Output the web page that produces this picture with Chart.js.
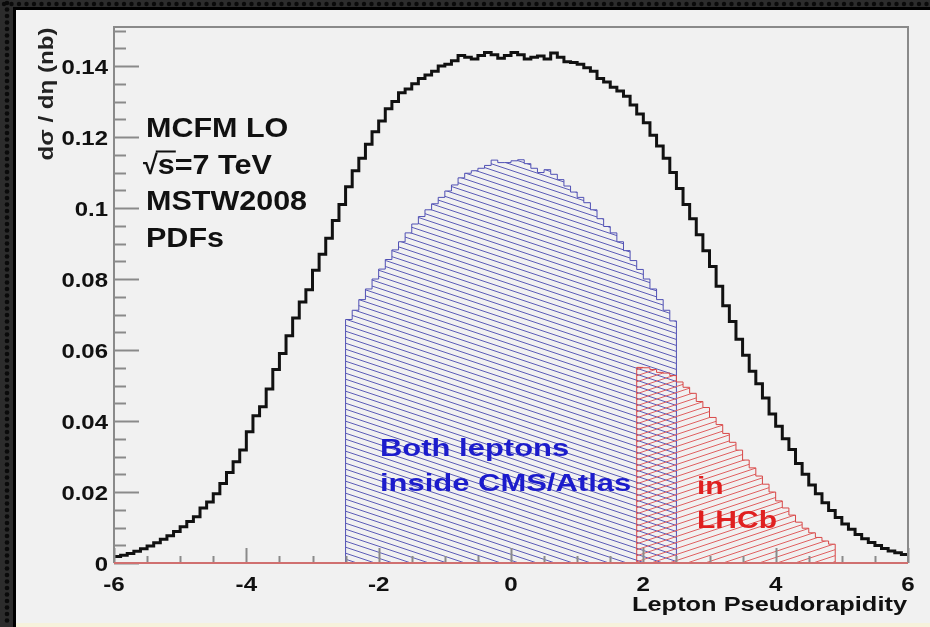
<!DOCTYPE html>
<html lang="en">
<head>
    <meta charset="UTF-8">
    <title>Lepton Pseudorapidity</title>
    <style>
        html, body { margin: 0; padding: 0; background: #2a2a2a; }
        #wrap { width: 930px; height: 627px; }
    </style>
</head>
<body>
    <div id="wrap"><canvas id="chart" width="930" height="627"></canvas></div>
    <script src="https://cdn.jsdelivr.net/npm/chart.js@4.4.0/dist/chart.umd.min.js"></script>
    <script>
        // histogram ranges, bin width 0.1
        const allRange = [-6, 6]
        const cmsRange = [-2.5, 2.5]
        const lhcbRange = [1.9, 4.9]
        const binWidth = 0.1

        // all events, -6 .. 6
        const allLeptons = [
            0.0018, 0.0022, 0.0027, 0.0033, 0.0040, 0.0048, 0.0057, 0.0067, 0.0077, 0.0089,
            0.0102, 0.0117, 0.0130, 0.0155, 0.0172, 0.0195, 0.0224, 0.0255, 0.0285, 0.0318,
            0.0370, 0.0415, 0.0440, 0.0490, 0.0545, 0.0590, 0.0640, 0.0690, 0.0735, 0.0770,
            0.0825, 0.0870, 0.0915, 0.0965, 0.1010, 0.1060, 0.1105, 0.1140, 0.1180, 0.1215,
            0.1245, 0.1280, 0.1300, 0.1325, 0.1335, 0.1350, 0.1365, 0.1375, 0.1385, 0.1400,
            0.1405, 0.1415, 0.1430, 0.1425, 0.1420, 0.1430, 0.1438, 0.1432, 0.1422, 0.1430,
            0.1438, 0.1432, 0.1420, 0.1425, 0.1428, 0.1420, 0.1437, 0.1425, 0.1412, 0.1410,
            0.1405, 0.1395, 0.1385, 0.1365, 0.1355, 0.1340, 0.1330, 0.1315, 0.1290, 0.1265,
            0.1240, 0.1205, 0.1175, 0.1140, 0.1100, 0.1055, 0.1010, 0.0970, 0.0925, 0.0880,
            0.0835, 0.0780, 0.0725, 0.0680, 0.0630, 0.0585, 0.0540, 0.0505, 0.0465, 0.0420,
            0.0385, 0.0350, 0.0320, 0.0280, 0.0250, 0.0220, 0.0195, 0.0170, 0.0148, 0.0128,
            0.0110, 0.0095, 0.0080, 0.0068, 0.0058, 0.0049, 0.0041, 0.0034, 0.0029, 0.0024
        ]

        // both leptons inside CMS/Atlas, -2.5 .. 2.5
        const cmsAtlas = [
            0.0686, 0.0712, 0.0742, 0.0772, 0.0800, 0.0828, 0.0855, 0.0882, 0.0905, 0.0930,
            0.0955, 0.0976, 0.0995, 0.1012, 0.1030, 0.1048, 0.1065, 0.1085, 0.1098, 0.1105,
            0.1112, 0.1120, 0.1135, 0.1128, 0.1128, 0.1133, 0.1136, 0.1125, 0.1112, 0.1100,
            0.1108, 0.1095, 0.1080, 0.1062, 0.1045, 0.1030, 0.1015, 0.0995, 0.0970, 0.0948,
            0.0930, 0.0905, 0.0880, 0.0852, 0.0827, 0.0800, 0.0772, 0.0742, 0.0712, 0.0682
        ]

        // in LHCb, 1.9 .. 4.9
        const lhcb = [
            0.0551, 0.0550, 0.0545, 0.0537, 0.0535, 0.0528, 0.0510, 0.0495, 0.0478, 0.0455,
            0.0438, 0.0410, 0.0390, 0.0365, 0.0340, 0.0318, 0.0290, 0.0268, 0.0245, 0.0222,
            0.0200, 0.0175, 0.0155, 0.0135, 0.0115, 0.0098, 0.0085, 0.0072, 0.0062, 0.0053
        ]

        const xTicks = [-6, -4, -2, 0, 2, 4, 6]
        const xTickLabels = ['-6', '-4', '-2', '0', '2', '4', '6']
        const yTicks = [0, 0.02, 0.04, 0.06, 0.08, 0.1, 0.12, 0.14]
        const yTickLabels = ['0', '0.02', '0.04', '0.06', '0.08', '0.1', '0.12', '0.14']
        const infoLines = ['MCFM LO', '\u221As=7 TeV', 'MSTW2008', 'PDFs']

        const FONT = '"Liberation Sans", Arial, Helvetica, sans-serif'

        // step points: value held from each left edge to the next
        function histPoints(values, lo, closed){
            const pts = []
            if(closed) pts.push({x: lo, y: 0})
            values.forEach((v, i) => pts.push({x: +(lo + i * binWidth).toFixed(2), y: v}))
            const hi = +(lo + values.length * binWidth).toFixed(2)
            pts.push({x: hi, y: values[values.length - 1]})
            if(closed) pts.push({x: hi, y: 0})
            return pts
        }

        function hatch(color, rising){
            const c = document.createElement('canvas')
            c.width = 18
            c.height = 6
            const g = c.getContext('2d')
            g.strokeStyle = color
            g.lineWidth = 1
            for(const off of [-6, 0, 6]){
                g.beginPath()
                if(rising){
                    g.moveTo(0, 6 + off)
                    g.lineTo(18, off)
                }else{
                    g.moveTo(0, off)
                    g.lineTo(18, 6 + off)
                }
                g.stroke()
            }
            return g.createPattern(c, 'repeat')
        }

        function text(ctx, str, x, y, size, color, align, sx){
            ctx.save()
            ctx.font = 'bold ' + size + 'px ' + FONT
            ctx.fillStyle = color
            ctx.textBaseline = 'alphabetic'
            const w = ctx.measureText(str).width * sx
            let left = x
            if(align === 'right') left = x - w
            if(align === 'center') left = x - w / 2
            ctx.translate(left, y)
            ctx.scale(sx, 1)
            ctx.fillText(str, 0, 0)
            ctx.restore()
            return w
        }

        const panelPlugin = {
            id: 'panel',
            beforeDraw(chart){
                const ctx = chart.ctx
                const W = chart.width, H = chart.height
                ctx.save()
                ctx.fillStyle = '#2c2c2c'
                ctx.fillRect(0, 0, W, H)
                // studded rim
                ctx.fillStyle = '#0a0a0a'
                for(let y = 3; y < H; y += 6.5){
                    ctx.beginPath()
                    ctx.arc(7, y, 2.3, 0, Math.PI * 2)
                    ctx.fill()
                }
                for(let x = 4; x < W; x += 7.5){
                    ctx.beginPath()
                    ctx.arc(x, 4, 2.2, 0, Math.PI * 2)
                    ctx.fill()
                }
                ctx.fillStyle = '#000'
                ctx.fillRect(13, 7, W - 13, H - 7)
                ctx.fillStyle = '#f1f1f1'
                ctx.fillRect(16, 10, W - 16, H - 10)
                ctx.fillStyle = '#f6f2dc'
                ctx.fillRect(16, H - 4, W - 16, 4)
                ctx.restore()
            },
            afterDatasetsDraw(chart){
                const ctx = chart.ctx
                const a = chart.chartArea
                const xs = chart.scales.x, ys = chart.scales.y
                ctx.save()
                // frame
                ctx.strokeStyle = '#8a8a8a'
                ctx.lineWidth = 2
                ctx.beginPath()
                ctx.moveTo(a.left, a.bottom)
                ctx.lineTo(a.left, a.top)
                ctx.lineTo(a.right, a.top)
                ctx.lineTo(a.right, a.bottom)
                ctx.stroke()

                // y ticks, minor every 0.005
                for(let k = 0; k <= 30; k++){
                    const v = k * 0.005
                    const py = Math.round(ys.getPixelForValue(v)) + 0.5
                    const len = k % 4 === 0 ? 25 : 12
                    ctx.beginPath()
                    ctx.moveTo(a.left, py)
                    ctx.lineTo(a.left + len, py)
                    ctx.stroke()
                }
                // x ticks, minor every 0.5
                for(let k = 0; k <= 24; k++){
                    const v = allRange[0] + k * 0.5
                    const px = Math.round(xs.getPixelForValue(v)) + 0.5
                    const len = k % 4 === 0 ? 15 : 7
                    ctx.beginPath()
                    ctx.moveTo(px, a.bottom)
                    ctx.lineTo(px, a.bottom - len)
                    ctx.stroke()
                }
                // zero line
                ctx.strokeStyle = '#d07070'
                ctx.lineWidth = 2
                ctx.beginPath()
                ctx.moveTo(a.left, a.bottom)
                ctx.lineTo(a.right, a.bottom)
                ctx.stroke()

                // tick labels
                yTicks.forEach((v, i) => {
                    text(ctx, yTickLabels[i], 108, ys.getPixelForValue(v) + 7.5, 21, '#111', 'right', 1.14)
                })
                xTicks.forEach((v, i) => {
                    text(ctx, xTickLabels[i], xs.getPixelForValue(v), 591, 21, '#111', 'center', 1.15)
                })

                // axis titles
                ctx.font = 'bold 20px ' + FONT
                const tw = ctx.measureText('Lepton Pseudorapidity').width
                text(ctx, 'Lepton Pseudorapidity', 907, 611, 20, '#111', 'right', 275 / tw)

                ctx.save()
                ctx.translate(53, 94)
                ctx.rotate(-Math.PI / 2)
                ctx.font = 'bold 21px ' + FONT
                const yt = 'd\u03C3 / d\u03B7 (nb)'
                const yw = ctx.measureText(yt).width
                text(ctx, yt, 0, 0, 21, '#222', 'center', 133 / yw)
                ctx.restore()

                // info block
                infoLines.forEach((s, i) => {
                    const y = 137 + i * 36.5
                    if(s.charAt(0) === '\u221A'){
                        const rw = text(ctx, '\u221A', 143, y, 27, '#111', 'left', 1.0)
                        text(ctx, s.slice(1), 143 + rw, y, 27, '#111', 'left', 1.13)
                        ctx.font = 'bold 27px ' + FONT
                        const s1 = ctx.measureText('s').width * 1.13
                        ctx.strokeStyle = '#111'
                        ctx.lineWidth = 2
                        ctx.beginPath()
                        ctx.moveTo(143 + rw - 2, y - 22)
                        ctx.lineTo(143 + rw + s1 + 1, y - 22)
                        ctx.stroke()
                    }else{
                        text(ctx, s, 146, y, 27, '#111', 'left', 1.13)
                    }
                })

                // region labels
                text(ctx, 'Both leptons', 380, 456, 24, '#1c1ccc', 'left', 1.29)
                text(ctx, 'inside CMS/Atlas', 380, 491, 24, '#1c1ccc', 'left', 1.29)
                text(ctx, 'in', 697, 494, 24, '#e02020', 'left', 1.25)
                text(ctx, 'LHCb', 697, 528, 24, '#e02020', 'left', 1.25)
                ctx.restore()
            }
        }

        const ctx = document.getElementById('chart').getContext('2d')
        new Chart(ctx, {
            type: 'line',
            data: {
                datasets: [
                    {
                        label: 'all',
                        data: histPoints(allLeptons, allRange[0], false),
                        stepped: true,
                        borderColor: '#111',
                        borderWidth: 3,
                        pointRadius: 0,
                        fill: false,
                        order: 0
                    },
                    {
                        label: 'CMS/Atlas',
                        data: histPoints(cmsAtlas, cmsRange[0], true),
                        stepped: true,
                        borderColor: '#5050b4',
                        borderWidth: 1,
                        backgroundColor: hatch('#5c5cb8', false),
                        pointRadius: 0,
                        fill: 'origin',
                        order: 2
                    },
                    {
                        label: 'LHCb',
                        data: histPoints(lhcb, lhcbRange[0], true),
                        stepped: true,
                        borderColor: '#d84848',
                        borderWidth: 1,
                        backgroundColor: hatch('#e06060', true),
                        pointRadius: 0,
                        fill: 'origin',
                        order: 1
                    }
                ]
            },
            options: {
                responsive: false,
                animation: false,
                layout: {padding: {left: 114, top: 27, right: 22, bottom: 64}},
                scales: {
                    x: {type: 'linear', min: allRange[0], max: allRange[1], display: false},
                    y: {type: 'linear', min: 0, max: 0.151, display: false}
                },
                plugins: {
                    legend: {display: false},
                    tooltip: {enabled: false}
                }
            },
            plugins: [panelPlugin]
        })
    </script>
</body>
</html>
